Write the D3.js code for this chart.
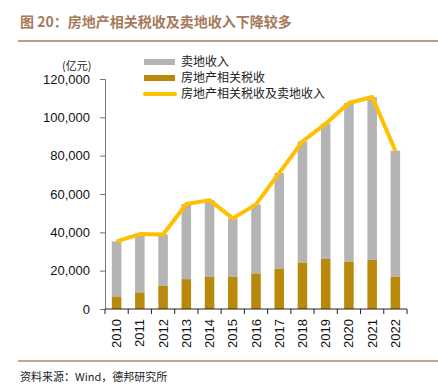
<!DOCTYPE html>
<html lang="zh">
<head>
    <meta charset="UTF-8">
    <title>房地产相关税收及卖地收入</title>
    <script src="https://d3js.org/d3.v7.min.js"></script>
    <style>
        body { margin: 0; background: #fff; }
        svg { display: block; }
        .cjk { font-family: "Noto Sans CJK SC", sans-serif; }
        .num { font-family: "Liberation Sans", Arial, sans-serif; }
    </style>
</head>
<body>
    <div id="chart"></div>
    <script type="text/javascript">
        const years = ["2010","2011","2012","2013","2014","2015","2016","2017","2018","2019","2020","2021","2022"];
        const taxIncome = [6600, 8700, 12300, 15600, 16700, 16700, 18600, 20900, 24300, 26100, 24800, 25600, 17000]; // 房地产相关税收
        const landSales = [28700, 30400, 26600, 39200, 40100, 30600, 36000, 50100, 63100, 70600, 82700, 85000, 65600]; // 卖地收入
        const yTicks = [0, 20000, 40000, 60000, 80000, 100000, 120000];
        const legendNames = ["卖地收入", "房地产相关税收", "房地产相关税收及卖地收入"];

        const W = 438, H = 389;
        const margin = {top: 79, right: 31, bottom: 80, left: 105};
        const width = W - margin.left - margin.right,
              height = H - margin.top - margin.bottom;

        const svg = d3.select("#chart").append("svg")
            .attr("width", W).attr("height", H);

        // title + rules
        svg.append("text").attr("class", "cjk")
            .attr("x", 20).attr("y", 27)
            .attr("font-size", 14).attr("font-weight", "bold")
            .attr("fill", "#A47A5A")
            .text("图 20：房地产相关税收及卖地收入下降较多");
        svg.append("line").attr("x1", 18).attr("x2", W).attr("y1", 41).attr("y2", 41)
            .attr("stroke", "#A67C5B").attr("stroke-width", 1.5);
        svg.append("line").attr("x1", 18).attr("x2", W).attr("y1", 361).attr("y2", 361)
            .attr("stroke", "#B08866").attr("stroke-width", 1.5);
        svg.append("text").attr("class", "cjk")
            .attr("x", 20).attr("y", 381)
            .attr("font-size", 11).attr("fill", "#222")
            .text("资料来源：Wind，德邦研究所");

        const g = svg.append("g").attr("transform", `translate(${margin.left},${margin.top})`);

        const x = d3.scaleBand().domain(years).range([0, width]).paddingInner(0.59).paddingOuter(0.295);
        const xb = d3.scaleBand().domain(years).range([0, width]);
        const y = d3.scaleLinear().domain([0, 120000]).range([height, 0]);

        const data = years.map((yr, i) => ({year: yr, tax: taxIncome[i], land: landSales[i], total: taxIncome[i] + landSales[i]}));

        // bars
        g.selectAll(".tax").data(data).join("rect")
            .attr("class", "tax")
            .attr("x", d => x(d.year)).attr("width", x.bandwidth())
            .attr("y", d => y(d.tax)).attr("height", d => y(0) - y(d.tax))
            .attr("fill", "#B8890A");
        g.selectAll(".land").data(data).join("rect")
            .attr("class", "land")
            .attr("x", d => x(d.year)).attr("width", x.bandwidth())
            .attr("y", d => y(d.total)).attr("height", d => y(d.tax) - y(d.total))
            .attr("fill", "#B4B4B4");

        // total line
        const line = d3.line()
            .x(d => x(d.year) + x.bandwidth() / 2)
            .y(d => y(d.total));
        g.append("path").datum(data)
            .attr("d", line)
            .attr("fill", "none").attr("stroke", "#FFC000")
            .attr("stroke-width", 4).attr("stroke-linejoin", "round");

        // y axis
        const yAxis = g.append("g").attr("class", "num")
            .call(d3.axisLeft(y).tickValues(yTicks).tickSize(5).tickPadding(10).tickFormat(d3.format(",")));
        yAxis.selectAll("path, line").attr("stroke", "#777");
        yAxis.selectAll("text").attr("font-size", 13).attr("fill", "#111").attr("font-family", "Liberation Sans, Arial, sans-serif");
        yAxis.select(".domain").attr("d", `M-5,0.5H0.5V${height}`);

        // x axis
        const xAxis = g.append("g").attr("transform", `translate(0,${height})`);
        xAxis.append("line").attr("x1", 0).attr("x2", width).attr("y1", 0).attr("y2", 0)
            .attr("stroke", "#222").attr("stroke-width", 1);
        xAxis.selectAll(".tk").data(years.concat(["end"])).join("line")
            .attr("class", "tk")
            .attr("x1", (d, i) => i < years.length ? xb(d) : width)
            .attr("x2", (d, i) => i < years.length ? xb(d) : width)
            .attr("y1", 0).attr("y2", 5).attr("stroke", "#222");
        xAxis.selectAll(".lbl").data(years).join("text")
            .attr("class", "lbl num")
            .attr("transform", d => `translate(${xb(d) + xb.bandwidth() / 2 + 4.5},10) rotate(-90)`)
            .attr("text-anchor", "end")
            .attr("font-size", 13).attr("fill", "#111")
            .text(d => d);

        // unit
        svg.append("text").attr("class", "cjk")
            .attr("x", 62).attr("y", 70)
            .attr("font-size", 11).attr("fill", "#222")
            .text("(亿元)");

        // legend
        const lg = svg.append("g").attr("transform", "translate(144,62)");
        lg.append("rect").attr("x", 0).attr("y", -3).attr("width", 31).attr("height", 6).attr("fill", "#B4B4B4");
        lg.append("rect").attr("x", 0).attr("y", 13).attr("width", 31).attr("height", 6).attr("fill", "#B8890A");
        lg.append("line").attr("x1", 1).attr("x2", 31).attr("y1", 32).attr("y2", 32)
            .attr("stroke", "#FFC000").attr("stroke-width", 4).attr("stroke-linecap", "round");
        lg.selectAll(".lt").data(legendNames).join("text")
            .attr("class", "lt cjk")
            .attr("x", 37).attr("y", (d, i) => i * 16 + 4)
            .attr("font-size", 12).attr("fill", "#222")
            .text(d => d);
    </script>
</body>
</html>
